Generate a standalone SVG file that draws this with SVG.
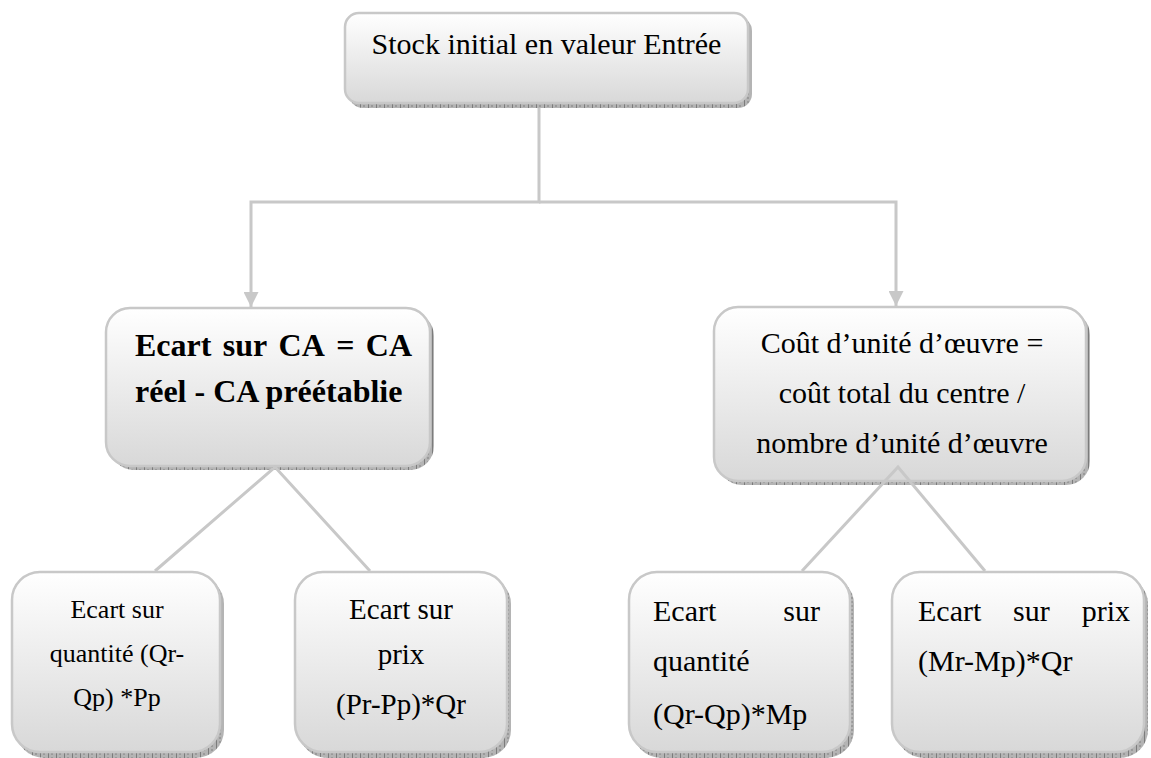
<svg xmlns="http://www.w3.org/2000/svg" width="1151" height="758" viewBox="0 0 1151 758">
  <defs>
    <linearGradient id="boxFill" x1="0" y1="0" x2="0" y2="1">
      <stop offset="0" stop-color="#ffffff"/>
      <stop offset="1" stop-color="#d8d8d8"/>
    </linearGradient>
    <pattern id="hatch" width="8" height="4" patternUnits="userSpaceOnUse">
      <rect width="8" height="4" fill="#b4b4b4"/>
      <rect x="0" y="0" width="1" height="4" fill="#7c7c7c"/>
      <rect x="3" y="1" width="2" height="2" fill="#9a9a9a"/>
    </pattern>
    <marker id="arrow" viewBox="0 0 10 10" refX="10" refY="5" markerWidth="5" markerHeight="5" orient="auto" markerUnits="strokeWidth">
      <path d="M0,0 L10,5 L0,10 z" fill="#c8c8c8"/>
    </marker>
  </defs>
  <style>
    .shadow { fill: url(#hatch); }
    .box { fill: url(#boxFill); stroke: #c8c8c8; stroke-width: 2.5; }
    .link { fill: none; stroke: #c8c8c8; stroke-width: 3; }
    text { fill: #000; }
  </style>

  <rect width="1151" height="758" fill="#ffffff"/>

  <!-- connectors -->
  <g id="connectors">
    <polyline class="link" points="539,104 539,202 251,202 251,307" marker-end="url(#arrow)"/>
    <polyline class="link" points="539,202 896,202 896,306" marker-end="url(#arrow)"/>
  </g>

  <g font-family="'Liberation Serif', 'DejaVu Serif', serif" font-size="30">
    <!-- top node -->
    <g id="node-stock">
      <rect class="shadow" x="349" y="17" width="403" height="91" rx="14"/>
      <rect class="box" x="345" y="13" width="403" height="90" rx="14"/>
      <text x="546.5" y="54" text-anchor="middle">Stock initial en valeur Entrée</text>
    </g>

    <!-- left middle node -->
    <g id="node-ecart-ca" font-weight="bold" font-size="32">
      <rect class="shadow" x="110" y="312" width="324" height="158" rx="24"/>
      <rect class="box" x="106" y="308" width="324" height="158" rx="24"/>
      <text y="356"><tspan x="135">Ecart</tspan><tspan x="222.8">sur</tspan><tspan x="278.6">CA</tspan><tspan x="336.2">=</tspan><tspan x="412" text-anchor="end">CA</tspan></text>
      <text x="135" y="402">réel - CA préétablie</text>
    </g>

    <!-- right middle node -->
    <g id="node-cout-unite">
      <rect class="shadow" x="718" y="311" width="372" height="174" rx="24"/>
      <rect class="box" x="714" y="307" width="372" height="174" rx="24"/>
      <text x="902" y="353" text-anchor="middle">Coût d’unité d’œuvre =</text>
      <text x="902" y="403" text-anchor="middle">coût total du centre /</text>
      <text x="902" y="453" text-anchor="middle">nombre d’unité d’œuvre</text>
    </g>

    <!-- child connectors drawn over the parents' lower edge -->
    <g id="connectors-children">
      <polyline class="link" points="155,571 275,467 370,571"/>
      <polyline class="link" points="802,571 898,467 985,571"/>
    </g>

    <!-- bottom nodes -->
    <g id="node-qte-ca" font-size="26">
      <rect class="shadow" x="16" y="576" width="208" height="182" rx="28"/>
      <rect class="box" x="12" y="572" width="208" height="180" rx="28"/>
      <text x="117" y="618" text-anchor="middle">Ecart sur</text>
      <text x="117" y="662" text-anchor="middle">quantité (Qr-</text>
      <text x="117" y="706" text-anchor="middle">Qp) *Pp</text>
    </g>

    <g id="node-prix-ca" font-size="29">
      <rect class="shadow" x="299" y="576" width="212" height="182" rx="28"/>
      <rect class="box" x="295" y="572" width="212" height="180" rx="28"/>
      <text x="401" y="619" text-anchor="middle">Ecart sur</text>
      <text x="401" y="664" text-anchor="middle">prix</text>
      <text x="401" y="714" text-anchor="middle">(Pr-Pp)*Qr</text>
    </g>

    <g id="node-qte-uo">
      <rect class="shadow" x="633" y="576" width="221" height="182" rx="28"/>
      <rect class="box" x="629" y="572" width="221" height="180" rx="28"/>
      <text y="621"><tspan x="653">Ecart</tspan><tspan x="820" text-anchor="end">sur</tspan></text>
      <text x="653" y="671">quantité</text>
      <text x="653" y="724">(Qr-Qp)*Mp</text>
    </g>

    <g id="node-prix-uo">
      <rect class="shadow" x="896" y="576" width="252" height="182" rx="28"/>
      <rect class="box" x="892" y="572" width="252" height="180" rx="28"/>
      <text y="621"><tspan x="918">Ecart</tspan><tspan x="1013">sur</tspan><tspan x="1130" text-anchor="end">prix</tspan></text>
      <text x="918" y="671">(Mr-Mp)*Qr</text>
    </g>
  </g>
</svg>
